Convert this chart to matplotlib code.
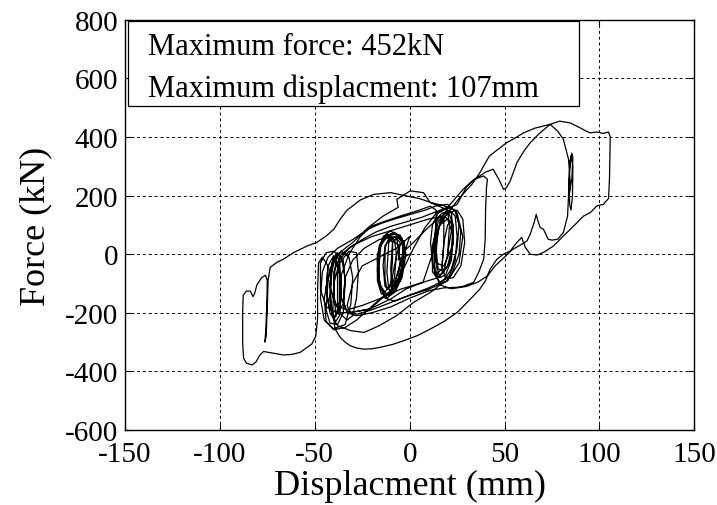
import numpy as np
import matplotlib
matplotlib.use("Agg")
import matplotlib.pyplot as plt
from matplotlib.patches import Rectangle

plt.rcParams['font.family'] = ['Liberation Serif', 'DejaVu Serif']
plt.rcParams['axes.unicode_minus'] = False

# ---- data: hysteresis path (displacement mm, force kN) ----
loops_center = [(0, 0), (-6, -20), (-5, 40), (-8, 60), (-11, 40), (-12, -60), (-11, -120), (-8, -130),
                (-6, -90), (-5, -20), (-6, 30), (-10, 55), (-13, 30), (-14, -40), (-13, -110), (-10, -125),
                (-8, -80), (-7, 0), (-8, 50), (-12, 70), (-15, 40), (-16, -30), (-16, -100), (-13, -130),
                (-10, -100), (-9, -20), (-9, 40), (-11, 55), (-13, 20), (-13, -80), (-12, -120),
                (-10, -110), (-8, -40), (-6, 20), (-7, 65), (-10, 80), (-14, 60), (-17, 0), (-17, -90),
                (-15, -135), (-11, -140), (-8, -100), (-4, -10), (-3, 40), (-6, 60), (-9, 40), (-10, -50),
                (-9, -110), (-6, -100), (-4, -40), (-3, 10)]

loops_right = [(-3, 10), (2, 40), (8, 80), (13, 110), (17, 140), (20, 145), (21, 100), (20, 0), (18, -60),
               (15, -80), (13, -40), (13, 50), (14, 110), (16, 130), (18, 120), (18, 30), (17, -50),
               (14, -70), (12, -30), (11, 40), (12, 100), (15, 140), (19, 155), (22, 140), (23, 60),
               (22, -20), (19, -70), (16, -80), (14, -40), (14, 40), (16, 110), (20, 140), (25, 150),
               (28, 120), (29, 40), (27, -40), (23, -80), (19, -85), (17, -40), (18, 40), (20, 100),
               (22, 110), (23, 50), (21, -30), (18, -60), (15, -50), (14, 10), (15, 80), (17, 130),
               (21, 150), (24, 130), (25, 60), (24, -20), (20, -90), (16, -105)]

loop_medium_a = [(16, -105), (11, -130), (2, -165), (-7, -210), (-16, -244), (-24, -267), (-31, -261),
                 (-38, -244), (-42, -200), (-44, -120), (-43, -40), (-40, -5)]

loops_left = [(-40, -5), (-42, -100), (-41, -200), (-39, -230), (-37, -210), (-36, -120), (-37, -20),
              (-39, 0), (-41, -60), (-42, -160), (-40, -215), (-38, -200), (-38, -110), (-38, -30),
              (-40, -10), (-43, -90), (-44, -190), (-42, -235), (-38, -240), (-35, -200), (-34, -100),
              (-35, -20), (-38, 5), (-41, -40), (-42, -140), (-41, -205), (-39, -215), (-37, -160),
              (-37, -70), (-39, -15), (-42, -50), (-45, -150), (-44, -230), (-40, -255), (-34, -240),
              (-31, -170), (-30, -80), (-32, -10), (-36, 10), (-39, -20), (-40, -120), (-39, -200),
              (-37, -205), (-36, -140), (-37, -60)]

loops_mid = [(-37, -60), (-37, -20), (-32, 20), (-25, 50), (-18, 75), (-10, 95), (-2, 110), (6, 125),
             (14, 145), (20, 160), (24, 150), (26, 100), (25, 20), (22, -50), (18, -90), (10, -115),
             (0, -140), (-8, -160), (-13, -150), (-16, -100), (-17, -20), (-15, 40), (-10, 70), (-5, 65),
             (-3, 20), (-4, -60), (-7, -120), (-11, -140), (-15, -120), (-17, -60), (-16, 20), (-12, 60),
             (-7, 70), (-4, 40), (-3, -20), (-5, -90), (-9, -125), (-15, -153), (-21, -187), (-31, -199),
             (-38, -200), (-44, -180), (-47, -120), (-47, -30), (-44, 5), (-40, 10), (-36, -10),
             (-34, -80), (-35, -170), (-38, -200), (-42, -190), (-44, -120), (-43, -40)]

loop_big_left = [(-43, -40), (-46, -10), (-48, -30), (-48.5, -120), (-48.5, -220), (-49.5, -280),
                 (-51.6, -307), (-57.7, -335), (-62, -342), (-66.5, -344), (-70, -340), (-73.5, -336),
                 (-77, -332), (-79, -345), (-81, -368), (-83, -378), (-86, -372), (-87.5, -355), (-88, -300),
                 (-88, -200), (-87.7, -140), (-86, -126), (-84, -126), (-82.5, -145), (-81.5, -130),
                 (-80.5, -105), (-78, -80), (-76, -72), (-75, -90), (-75.3, -180), (-75.8, -260),
                 (-76.3, -300), (-75.6, -280), (-75, -180), (-74.6, -90), (-73.5, -45), (-70, -28),
                 (-66.5, -17), (-61, 6), (-54, 28), (-49, 40), (-44, 62), (-40, 85), (-36, 125), (-33, 150),
                 (-26, 185), (-19, 204), (-10, 210), (-2, 199), (5, 190), (12, 175), (18, 165)]

loops_return = [(18, 165), (24, 150), (27, 80), (26, 0), (22, -70), (16, -95), (12, -60), (12, 30),
                (15, 110), (20, 155), (25, 170), (30, 230), (34, 255), (39, 267), (41, 255), (40.5, 230),
                (40, 150), (39.8, 50), (39, -17), (36.5, -60), (33.7, -96), (28, -110), (24.9, -113),
                (18, -115), (10, -125), (0, -150), (-10, -180), (-20, -200), (-28, -210), (-33, -200),
                (-35, -160), (-34, -80), (-30, -20), (-24, 20), (-16, 50), (-8, 60), (-3, 45), (-2, 0),
                (-4, -80), (-8, -130), (-12, -150), (-15, -120), (-17, -50), (-16, 30), (-13, 60), (-8, 75),
                (-4, 55), (-3, 0), (-5, -70), (-9, -120)]

loop_medium_b = [(-9, -120), (-15, -150), (-22, -190), (-28, -225), (-34, -250), (-40, -258), (-45, -225),
                 (-47, -150), (-46, -60), (-43, -10), (-38, 20), (-30, 50), (-22, 85), (-15, 105),
                 (-8, 120), (0, 135), (8, 150), (14, 165), (20, 170), (25, 140), (28, 60), (26, -30),
                 (20, -90), (10, -120), (0, -140), (-10, -165), (-20, -190), (-28, -205), (-33, -195),
                 (-36, -150), (-36, -70), (-32, 0), (-26, 60), (-20, 96), (-15, 108), (-5, 130), (5, 150),
                 (10.8, 164), (14, 150), (14, 80), (12, 0), (7, -96), (-2, -119), (-10, -153), (-21, -187),
                 (-31, -199), (-33, -176), (-30, -100), (-25, -40), (-16, -10), (-7, 20), (0, 60),
                 (-9, -120)]

loop_big_right = [(-9, -120), (-4, -60), (2, 20), (8, 90), (14, 140), (20, 160), (28, 220), (33, 250),
                  (37, 267), (40, 280), (44, 290), (47, 255), (49.5, 221), (51, 227), (53, 250), (56.5, 312),
                  (60, 350), (63.5, 380), (68, 410), (74, 443), (78, 420), (81, 392), (83.7, 324),
                  (84.6, 244), (84, 199), (85.5, 260), (86, 330), (85.5, 345), (84.5, 320), (84, 250),
                  (84.3, 170), (85, 150), (85.8, 200), (86, 300), (85, 335), (84.2, 280), (83.7, 199),
                  (83.2, 130), (81, 74), (78, 51), (75, 48), (73, 51), (70.5, 85), (68.8, 91), (67.5, 115),
                  (66.7, 136), (65.6, 108), (63.5, 68), (61.8, 45), (58, 30), (54, 15), (50, -10), (45, -40),
                  (41, -74), (36, -95), (30, -110), (22, -118), (16, -105), (13, -60), (13, 20), (15, 90),
                  (20, 140), (26, 190), (33, 240), (37, 278), (42, 335), (47, 360), (51, 380), (56, 398),
                  (60, 414), (66, 430), (74, 443), (79, 454), (84.6, 448), (89.9, 431), (93, 420),
                  (95.2, 414), (98.7, 417), (102, 412), (104.8, 417), (105.7, 400), (105.5, 330),
                  (105.3, 260), (104.8, 190), (102, 170), (98.7, 165), (95.2, 142), (91.6, 130), (86.4, 96),
                  (81, 62), (75.8, 28), (70.5, 6), (67, -3), (63.5, 0), (61, 23), (59, 57), (56.5, 40),
                  (53, 11), (49.5, 0), (46, -17), (42.4, -51), (40, -90), (37, -119), (31, -160), (25, -199),
                  (18, -230), (11, -255), (4, -278), (-3, -295), (-9, -308), (-15.6, -318), (-20, -323),
                  (-24.4, -324), (-28, -320), (-31.4, -312), (-34, -300), (-36.6, -284), (-39.3, -255),
                  (-40.5, -200), (-40, -100), (-37, -30), (-32, 10), (-28, 5), (-27, -60), (-28, -150),
                  (-30, -210), (-33, -225), (-37, -200)]

loops_final = [(-37, -200), (-40, -150), (-40, -60), (-36, 0), (-30, 30), (-20, 60), (-10, 80), (0, 100),
               (10, 120), (18, 130), (22, 110), (23, 40), (20, -40), (15, -80), (5, -100), (-5, -120),
               (-15, -150), (-25, -175), (-33, -190), (-39, -175), (-42, -110), (-41, -30), (-37, 5),
               (-30, 40), (-22, 90), (-14, 130), (-6, 160), (-6.8, 187), (0.3, 216), (7.3, 210), (10.8, 176),
               (15, 165), (20, 150), (23, 100), (22, 20), (18, -40), (14, -30), (13, 40), (16, 100),
               (20, 120), (22, 80), (20, 0)]

segments = [loops_center, loops_right, loop_medium_a, loops_left, loops_mid, loop_big_left,
            loops_return, loop_medium_b, loop_big_right, loops_final]

x_ticks = [-150, -100, -50, 0, 50, 100, 150]
y_ticks = [-600, -400, -200, 0, 200, 400, 600, 800]
info_lines = ["Maximum force: 452kN", "Maximum displacment: 107mm"]

# ---- figure ----
fig = plt.figure(figsize=(7.17, 5.06), dpi=100)
ax = fig.add_axes([0.1743, 0.1482, 0.7941, 0.8108])

pts = np.array([p for seg in segments for p in seg], dtype=float)
ax.plot(pts[:, 0], pts[:, 1], color='black', lw=0.9, zorder=3)

ax.set_xlim(-150, 150)
ax.set_ylim(-600, 800)
ax.set_xticks(x_ticks)
ax.set_yticks(y_ticks)
ax.tick_params(direction='in', top=True, right=True, length=4, width=0.8, labelsize=21)
ax.tick_params(axis='x', pad=8)
ax.tick_params(axis='y', pad=5)
ax.grid(True, color='black', linestyle=(0, (3, 3)), linewidth=0.7)
for s in ax.spines.values():
    s.set_linewidth(1.0)

ax.set_xlabel("Displacment (mm)", fontsize=26, labelpad=1)
ax.set_ylabel("Force (kN)", fontsize=26, labelpad=9)

# info box
rect = Rectangle((0.0053, 0.7897), 0.7917, 0.2071, transform=ax.transAxes,
                 facecolor='white', edgecolor='black', lw=0.9, zorder=5)
ax.add_patch(rect)
ax.text(0.0404, 0.9164, info_lines[0], transform=ax.transAxes, fontsize=22,
        va='baseline', ha='left', zorder=6)
ax.text(0.0404, 0.814, info_lines[1], transform=ax.transAxes, fontsize=22,
        va='baseline', ha='left', zorder=6)

fig.savefig("out.png", dpi=100)
